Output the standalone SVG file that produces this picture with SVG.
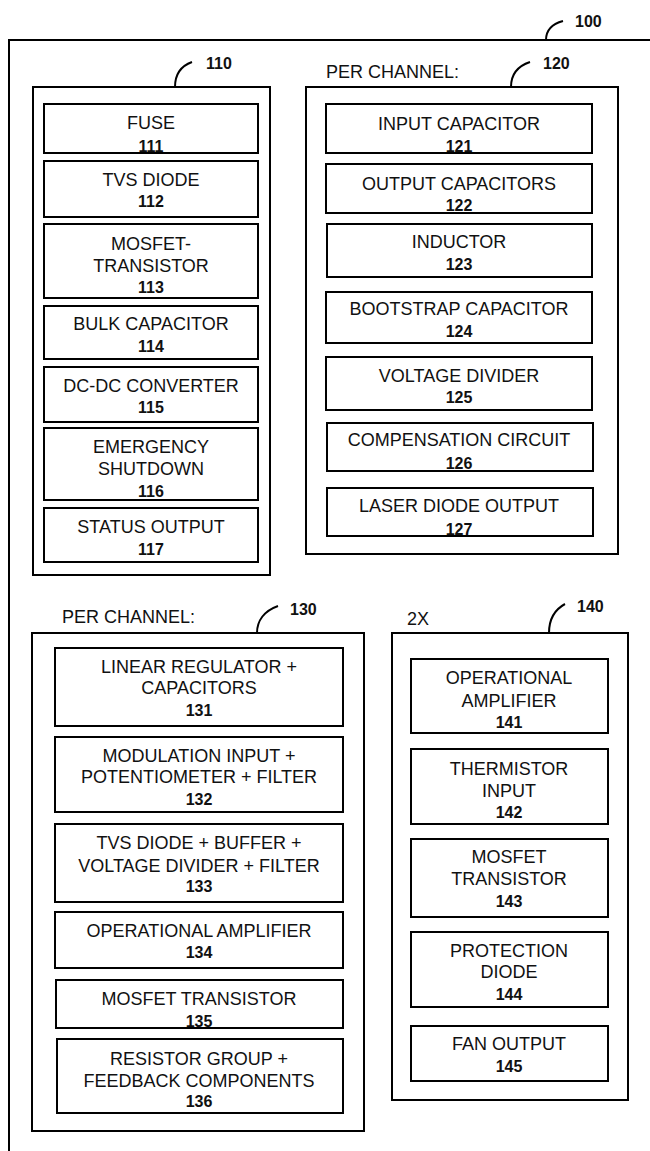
<svg xmlns="http://www.w3.org/2000/svg" width="650" height="1151" viewBox="0 0 650 1151">
<style>
.frame{fill:none;stroke:#000;stroke-width:2}
.box{fill:#fff;stroke:#000;stroke-width:2}
.lead{fill:none;stroke:#000;stroke-width:2}
.t{font-family:"Liberation Sans",Arial,sans-serif;font-size:18px;fill:#111;text-anchor:middle}
.n{font-family:"Liberation Sans",Arial,sans-serif;font-size:16px;font-weight:bold;fill:#111;text-anchor:middle}
.ref{font-family:"Liberation Sans",Arial,sans-serif;font-size:16px;font-weight:bold;fill:#111}
.cap{font-family:"Liberation Sans",Arial,sans-serif;font-size:18px;fill:#111}
</style>
<rect width="650" height="1151" fill="#fff"/>
<g id="frame100">
<path class="frame" d="M9,1151 V40 H651"/>
<text class="ref" x="575" y="27">100</text>
</g>
<g id="connectors">
<path class="lead" d="M546,40 C546,30 552,24 563,21"/>
<path class="lead" d="M175,87 C175,74 181,66 192,62"/>
<path class="lead" d="M511,87 C511,74 518,66 530,62"/>
<path class="lead" d="M257,633 C257,621 264,611 278,606"/>
<path class="lead" d="M549,633 C549,621 554,610 565,604"/>
</g>
<g id="group110">
<rect class="frame" x="33" y="87" width="237" height="488"/>
<text class="ref" x="206" y="69">110</text>
</g>
<g id="n111"><rect class="box" x="44" y="104" width="214" height="49"/><text class="t" x="151" y="129">FUSE</text><text class="n" x="151" y="152">111</text></g>
<g id="n112"><rect class="box" x="44" y="161" width="214" height="56"/><text class="t" x="151" y="186">TVS DIODE</text><text class="n" x="151" y="207">112</text></g>
<g id="n113"><rect class="box" x="44" y="224" width="214" height="74"/><text class="t" x="151" y="250">MOSFET-</text><text class="t" x="151" y="272">TRANSISTOR</text><text class="n" x="151" y="293">113</text></g>
<g id="n114"><rect class="box" x="44" y="306" width="214" height="53"/><text class="t" x="151" y="330">BULK CAPACITOR</text><text class="n" x="151" y="352">114</text></g>
<g id="n115"><rect class="box" x="44" y="367" width="214" height="55"/><text class="t" x="151" y="392">DC-DC CONVERTER</text><text class="n" x="151" y="413">115</text></g>
<g id="n116"><rect class="box" x="44" y="428" width="214" height="72"/><text class="t" x="151" y="453">EMERGENCY</text><text class="t" x="151" y="475">SHUTDOWN</text><text class="n" x="151" y="497">116</text></g>
<g id="n117"><rect class="box" x="44" y="508" width="214" height="54"/><text class="t" x="151" y="533">STATUS OUTPUT</text><text class="n" x="151" y="555">117</text></g>
<g id="group120">
<rect class="frame" x="306" y="87" width="312" height="467"/>
<text class="cap" x="326" y="78">PER CHANNEL:</text>
<text class="ref" x="543" y="69">120</text>
</g>
<g id="n121"><rect class="box" x="326" y="104" width="266" height="49"/><text class="t" x="459" y="130">INPUT CAPACITOR</text><text class="n" x="459" y="152">121</text></g>
<g id="n122"><rect class="box" x="326" y="164" width="266" height="49"/><text class="t" x="459" y="190">OUTPUT CAPACITORS</text><text class="n" x="459" y="211">122</text></g>
<g id="n123"><rect class="box" x="327" y="224" width="265" height="53"/><text class="t" x="459" y="248">INDUCTOR</text><text class="n" x="459" y="270">123</text></g>
<g id="n124"><rect class="box" x="326" y="292" width="266" height="51"/><text class="t" x="459" y="315">BOOTSTRAP CAPACITOR</text><text class="n" x="459" y="337">124</text></g>
<g id="n125"><rect class="box" x="326" y="357" width="266" height="53"/><text class="t" x="459" y="382">VOLTAGE DIVIDER</text><text class="n" x="459" y="403">125</text></g>
<g id="n126"><rect class="box" x="327" y="423" width="266" height="48"/><text class="t" x="459" y="446">COMPENSATION CIRCUIT</text><text class="n" x="459" y="469">126</text></g>
<g id="n127"><rect class="box" x="327" y="488" width="266" height="48"/><text class="t" x="459" y="512">LASER DIODE OUTPUT</text><text class="n" x="459" y="535">127</text></g>
<g id="group130">
<rect class="frame" x="32" y="633" width="332" height="498"/>
<text class="cap" x="62" y="623">PER CHANNEL:</text>
<text class="ref" x="290" y="615">130</text>
</g>
<g id="n131"><rect class="box" x="55" y="648" width="288" height="78"/><text class="t" x="199" y="673">LINEAR REGULATOR +</text><text class="t" x="199" y="694">CAPACITORS</text><text class="n" x="199" y="716">131</text></g>
<g id="n132"><rect class="box" x="55" y="737" width="288" height="75"/><text class="t" x="199" y="762">MODULATION INPUT +</text><text class="t" x="199" y="783">POTENTIOMETER + FILTER</text><text class="n" x="199" y="805">132</text></g>
<g id="n133"><rect class="box" x="55" y="824" width="288" height="78"/><text class="t" x="199" y="849">TVS DIODE + BUFFER +</text><text class="t" x="199" y="872">VOLTAGE DIVIDER + FILTER</text><text class="n" x="199" y="892">133</text></g>
<g id="n134"><rect class="box" x="55" y="912" width="288" height="56"/><text class="t" x="199" y="937">OPERATIONAL AMPLIFIER</text><text class="n" x="199" y="958">134</text></g>
<g id="n135"><rect class="box" x="56" y="980" width="287" height="48"/><text class="t" x="199" y="1005">MOSFET TRANSISTOR</text><text class="n" x="199" y="1027">135</text></g>
<g id="n136"><rect class="box" x="57" y="1039" width="286" height="74"/><text class="t" x="199" y="1065">RESISTOR GROUP +</text><text class="t" x="199" y="1087">FEEDBACK COMPONENTS</text><text class="n" x="199" y="1107">136</text></g>
<g id="group140">
<rect class="frame" x="392" y="633" width="236" height="467"/>
<text class="cap" x="407" y="625">2X</text>
<text class="ref" x="577" y="612">140</text>
</g>
<g id="n141"><rect class="box" x="411" y="659" width="197" height="74"/><text class="t" x="509" y="684">OPERATIONAL</text><text class="t" x="509" y="707">AMPLIFIER</text><text class="n" x="509" y="728">141</text></g>
<g id="n142"><rect class="box" x="411" y="749" width="197" height="75"/><text class="t" x="509" y="775">THERMISTOR</text><text class="t" x="509" y="797">INPUT</text><text class="n" x="509" y="818">142</text></g>
<g id="n143"><rect class="box" x="411" y="839" width="197" height="78"/><text class="t" x="509" y="863">MOSFET</text><text class="t" x="509" y="885">TRANSISTOR</text><text class="n" x="509" y="907">143</text></g>
<g id="n144"><rect class="box" x="411" y="932" width="197" height="75"/><text class="t" x="509" y="957">PROTECTION</text><text class="t" x="509" y="978">DIODE</text><text class="n" x="509" y="1000">144</text></g>
<g id="n145"><rect class="box" x="411" y="1026" width="197" height="55"/><text class="t" x="509" y="1050">FAN OUTPUT</text><text class="n" x="509" y="1072">145</text></g>
</svg>
